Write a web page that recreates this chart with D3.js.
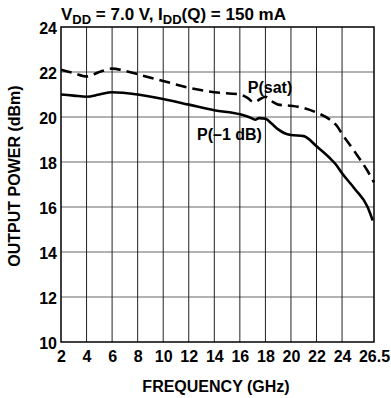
<!DOCTYPE html>
<html>
<head>
<meta charset="utf-8">
<script src="https://cdn.jsdelivr.net/npm/d3@7"></script>
<style>
  body { margin: 0; background: #fff; }
  text { font-family: "Liberation Sans", Arial, sans-serif; font-weight: bold; fill: #000; }
</style>
</head>
<body>
<div id="chart"></div>
<script>
const width = 391;
const height = 398;
const margin = { top: 27, right: 17, bottom: 56, left: 61 };

// frequency ticks (GHz) and power ticks (dBm)
const xTicks = [2, 4, 6, 8, 10, 12, 14, 16, 18, 20, 22, 24, 26.5];
const yTicks = [10, 12, 14, 16, 18, 20, 22, 24];

// P(sat) curve, dashed
const satFreq = [2, 3, 4, 5, 6, 7, 8, 10, 12, 14, 16, 16.6, 17.1, 17.6, 18, 18.5, 19, 20, 21, 22, 23, 23.6, 24, 25, 26, 26.5];
const satPower = [22.1, 21.95, 21.8, 22.0, 22.15, 22.05, 21.9, 21.6, 21.3, 21.1, 21.0, 20.85, 20.65, 20.8, 20.9, 20.7, 20.55, 20.5, 20.4, 20.2, 19.9, 19.6, 19.25, 18.45, 17.6, 17.1];

// P(-1 dB) curve, solid
const p1Freq = [2, 3, 4, 5, 6, 8, 10, 12, 14, 16, 16.8, 17.2, 17.5, 18, 18.5, 19, 19.5, 20, 21, 22, 23, 23.5, 24, 25, 26, 26.4];
const p1Power = [21.0, 20.95, 20.9, 21.0, 21.1, 21.0, 20.8, 20.55, 20.3, 20.12, 19.98, 19.88, 19.95, 19.92, 19.7, 19.45, 19.28, 19.2, 19.15, 18.7, 18.2, 17.9, 17.5, 16.8, 16.0, 15.4];

const svg = d3.select("#chart")
  .append("svg")
  .attr("width", width)
  .attr("height", height);

const x = d3.scaleLinear()
  .domain([2, 26.5])
  .range([margin.left, width - margin.right]);

const y = d3.scaleLinear()
  .domain([10, 24])
  .range([height - margin.bottom, margin.top]);

// grid
svg.append("g")
  .selectAll("line")
  .data(yTicks.slice(1, -1))
  .enter()
  .append("line")
  .attr("x1", x(2))
  .attr("x2", x(26.5))
  .attr("y1", d => y(d))
  .attr("y2", d => y(d))
  .attr("stroke", "#666")
  .attr("stroke-width", 1);

svg.append("g")
  .selectAll("line")
  .data(xTicks.slice(1, -1))
  .enter()
  .append("line")
  .attr("x1", d => x(d))
  .attr("x2", d => x(d))
  .attr("y1", y(10))
  .attr("y2", y(24))
  .attr("stroke", "#222")
  .attr("stroke-width", 1);

svg.append("rect")
  .attr("x", x(2))
  .attr("y", y(24))
  .attr("width", x(26.5) - x(2))
  .attr("height", y(10) - y(24))
  .attr("fill", "none")
  .attr("stroke", "#000")
  .attr("stroke-width", 1.5);

// axes (labels only)
const xAxis = svg.append("g")
  .attr("transform", `translate(0,${height - margin.bottom})`)
  .call(d3.axisBottom(x).tickValues(xTicks).tickFormat(d => d).tickSize(0).tickPadding(9));
xAxis.select(".domain").remove();
xAxis.selectAll("text")
  .style("font-family", "'Liberation Sans', Arial, sans-serif")
  .style("font-weight", "bold")
  .style("font-size", "16px");

const yAxis = svg.append("g")
  .attr("transform", `translate(${margin.left},0)`)
  .call(d3.axisLeft(y).tickValues(yTicks).tickSize(0).tickPadding(4));
yAxis.select(".domain").remove();
yAxis.selectAll("text")
  .attr("dy", "0.42em")
  .style("font-family", "'Liberation Sans', Arial, sans-serif")
  .style("font-weight", "bold")
  .style("font-size", "16px");

// curves
const line = d3.line()
  .x(d => x(d[0]))
  .y(d => y(d[1]))
  .curve(d3.curveMonotoneX);

svg.append("path")
  .datum(satFreq.map((f, i) => [f, satPower[i]]))
  .attr("d", line)
  .attr("fill", "none")
  .attr("stroke", "#000")
  .attr("stroke-width", 2.6)
  .attr("stroke-dasharray", "11,6");

svg.append("path")
  .datum(p1Freq.map((f, i) => [f, p1Power[i]]))
  .attr("d", line)
  .attr("fill", "none")
  .attr("stroke", "#000")
  .attr("stroke-width", 2.6);

// curve labels
svg.append("text")
  .attr("x", x(18.36))
  .attr("y", y(21.05))
  .attr("text-anchor", "middle")
  .style("font-size", "16px")
  .text("P(sat)");

svg.append("text")
  .attr("x", x(17.73))
  .attr("y", y(18.98))
  .attr("text-anchor", "end")
  .style("font-size", "16px")
  .text("P(\u20131 dB)");

// titles
const title = svg.append("text")
  .attr("x", margin.left)
  .attr("y", 20)
  .style("font-size", "17px");
title.append("tspan").text("V");
title.append("tspan").attr("dy", 4).style("font-size", "13px").text("DD");
title.append("tspan").attr("dy", -4).text(" = 7.0 V, I");
title.append("tspan").attr("dy", 4).style("font-size", "13px").text("DD");
title.append("tspan").attr("dy", -4).text("(Q) = 150 mA");

svg.append("text")
  .attr("x", 216)
  .attr("y", 392)
  .attr("text-anchor", "middle")
  .style("font-size", "16px")
  .text("FREQUENCY (GHz)");

svg.append("text")
  .attr("transform", "rotate(-90)")
  .attr("x", -176)
  .attr("y", 20)
  .attr("text-anchor", "middle")
  .style("font-size", "16px")
  .text("OUTPUT POWER (dBm)");
</script>
</body>
</html>
